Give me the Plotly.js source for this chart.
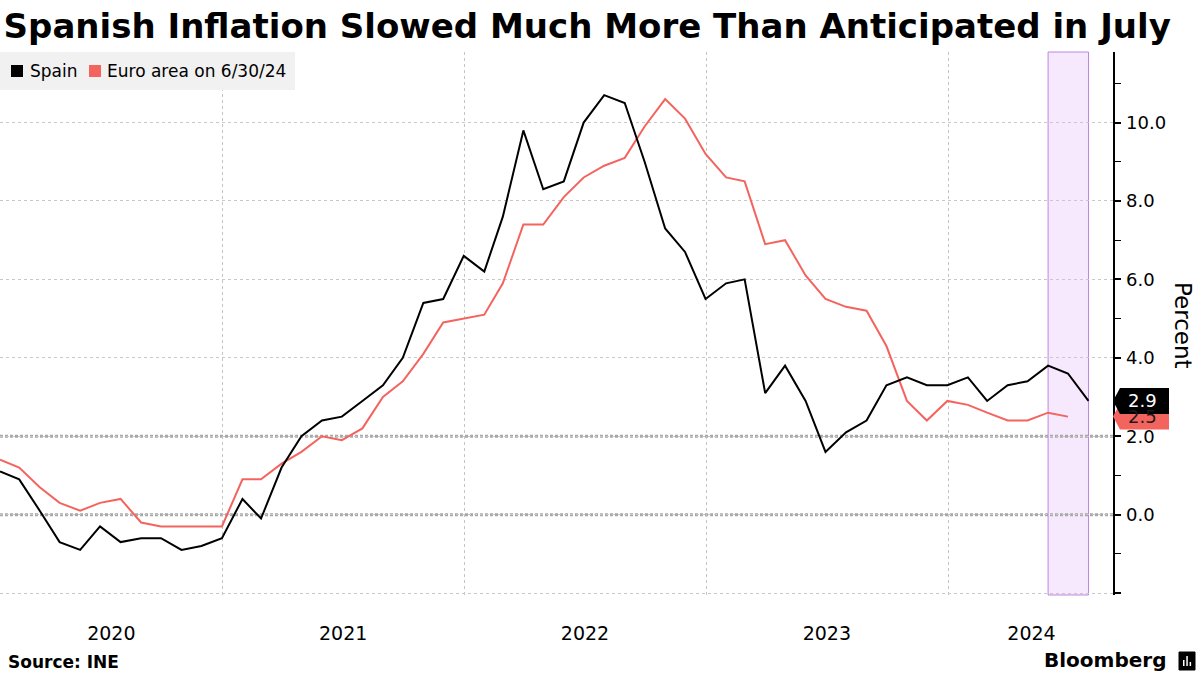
<!DOCTYPE html>
<html>
<head>
<meta charset="utf-8">
<script src="https://cdn.plot.ly/plotly-3.0.1.min.js"></script>
<style>
  html, body { margin: 0; padding: 0; background: #fff; }
  #chart { width: 1200px; height: 675px; }
</style>
</head>
<body>
<div id="chart"></div>
<script>
// ---- Data (year-over-year inflation, %) ----
const startYear = 2020;          // first month: Jan 2020
const spainValues = [
  1.1, 0.9, 0.1, -0.7, -0.9, -0.3, -0.7, -0.6, -0.6, -0.9, -0.8, -0.6,
  0.4, -0.1, 1.2, 2.0, 2.4, 2.5, 2.9, 3.3, 4.0, 5.4, 5.5, 6.6,
  6.2, 7.6, 9.8, 8.3, 8.5, 10.0, 10.7, 10.5, 9.0, 7.3, 6.7, 5.5,
  5.9, 6.0, 3.1, 3.8, 2.9, 1.6, 2.1, 2.4, 3.3, 3.5, 3.3, 3.3,
  3.5, 2.9, 3.3, 3.4, 3.8, 3.6, 2.9
];
const euroValues = [
  1.4, 1.2, 0.7, 0.3, 0.1, 0.3, 0.4, -0.2, -0.3, -0.3, -0.3, -0.3,
  0.9, 0.9, 1.3, 1.6, 2.0, 1.9, 2.2, 3.0, 3.4, 4.1, 4.9, 5.0,
  5.1, 5.9, 7.4, 7.4, 8.1, 8.6, 8.9, 9.1, 9.9, 10.6, 10.1, 9.2,
  8.6, 8.5, 6.9, 7.0, 6.1, 5.5, 5.3, 5.2, 4.3, 2.9, 2.4, 2.9,
  2.8, 2.6, 2.4, 2.4, 2.6, 2.5
];
const seriesNames = ['Spain', 'Euro area on 6/30/24'];
const yearLabels = ['2020', '2021', '2022', '2023', '2024'];
const yearLabelDates = ['2020-07-17', '2021-07-02', '2022-07-02', '2023-07-02', '2024-05-06'];
const yearBoundaries = ['2021-01-01', '2022-01-01', '2023-01-01', '2024-01-01'];
const yTickVals = [-2, 0, 2, 4, 6, 8, 10];
const yTickText = ['', '0.0', '2.0', '4.0', '6.0', '8.0', '10.0'];
const shadeStart = '2024-05-31';
const shadeEnd = '2024-07-31';
const xRange = ['2020-01-31', '2024-09-06'];
const yRange = [-2.05, 11.8];

// month-end dates for monthly observations
function monthEnd(i) {
  const d = new Date(Date.UTC(startYear, i + 1, 0));
  return d.toISOString().slice(0, 10);
}
const spainDates = spainValues.map((_, i) => monthEnd(i));
const euroDates = euroValues.map((_, i) => monthEnd(i));

// ---- Layout geometry ----
const W = 1200, H = 675;
const M = { l: 0, r: 87, t: 52, b: 80 };
const PW = W - M.l - M.r, PH = H - M.t - M.b;
const px = x => (x - M.l) / PW;          // pixel -> paper x
const py = y => 1 - (y - M.t) / PH;      // pixel -> paper y

const BLACK = '#000000';
const RED = '#f4645f';
const FONT = 'DejaVu Sans, sans-serif';

const traces = [
  { x: euroDates, y: euroValues, name: seriesNames[1], type: 'scatter', mode: 'lines',
    line: { color: RED, width: 2 }, showlegend: false, hoverinfo: 'skip' },
  { x: spainDates, y: spainValues, name: seriesNames[0], type: 'scatter', mode: 'lines',
    line: { color: BLACK, width: 2 }, showlegend: false, hoverinfo: 'skip' }
];

// end-of-series value tags
const lastSpain = spainValues[spainValues.length - 1];
const lastEuro = euroValues[euroValues.length - 1];
const pxPerUnit = PH / (yRange[1] - yRange[0]);
const halfTag = 13 / pxPerUnit;
function tagPath(v) {
  const tip = px(1113), bx = px(1120), rx = px(1169);
  return `M ${tip} ${v} L ${bx} ${v + halfTag} L ${rx} ${v + halfTag} L ${rx} ${v - halfTag} L ${bx} ${v - halfTag} Z`;
}

const shapes = [
  // highlighted period
  { type: 'rect', xref: 'x', yref: 'paper', x0: shadeStart, x1: shadeEnd, y0: 0, y1: 1,
    fillcolor: '#f6e8fd', line: { color: '#bf85e0', width: 1 }, layer: 'below' },
  // reference lines at 0 and 2
  { type: 'line', xref: 'paper', yref: 'y', x0: 0, x1: 1, y0: 0, y1: 0,
    line: { color: '#a8a8a8', width: 3, dash: '3px,2px' }, layer: 'below' },
  { type: 'line', xref: 'paper', yref: 'y', x0: 0, x1: 1, y0: 2, y1: 2,
    line: { color: '#a8a8a8', width: 3, dash: '3px,2px' }, layer: 'below' },
  // legend background
  { type: 'rect', xref: 'paper', yref: 'paper', x0: px(0), x1: px(295), y0: py(90), y1: py(52),
    fillcolor: '#f1f1f1', line: { width: 0 }, layer: 'above' },
  { type: 'rect', xref: 'paper', yref: 'paper', x0: px(11), x1: px(23), y0: py(77), y1: py(65),
    fillcolor: BLACK, line: { width: 0 } },
  { type: 'rect', xref: 'paper', yref: 'paper', x0: px(89), x1: px(101), y0: py(77), y1: py(65),
    fillcolor: RED, line: { width: 0 } },
  // value tags (euro first, spain on top)
  { type: 'path', xref: 'paper', yref: 'y', path: tagPath(lastEuro), fillcolor: RED, line: { width: 0 } },
  { type: 'path', xref: 'paper', yref: 'y', path: tagPath(lastSpain), fillcolor: BLACK, line: { width: 0 } },
  // Bloomberg icon
  { type: 'rect', xref: 'paper', yref: 'paper', x0: px(1179), x1: px(1195), y0: py(670), y1: py(652),
    fillcolor: '#000', line: { color: '#000', width: 1 } },
  { type: 'rect', xref: 'paper', yref: 'paper', x0: px(1183), x1: px(1184.5), y0: py(666), y1: py(660),
    fillcolor: '#fff', line: { width: 0 } },
  { type: 'rect', xref: 'paper', yref: 'paper', x0: px(1186.3), x1: px(1187.8), y0: py(666), y1: py(656),
    fillcolor: '#fff', line: { width: 0 } },
  { type: 'rect', xref: 'paper', yref: 'paper', x0: px(1189.6), x1: px(1191.1), y0: py(666), y1: py(662),
    fillcolor: '#fff', line: { width: 0 } }
];

const annotations = [
  { xref: 'paper', yref: 'paper', x: px(28), y: py(71), xanchor: 'left', yanchor: 'middle',
    text: seriesNames[0], showarrow: false, font: { family: FONT, size: 17, color: '#000' } },
  { xref: 'paper', yref: 'paper', x: px(105), y: py(71), xanchor: 'left', yanchor: 'middle',
    text: seriesNames[1], showarrow: false, font: { family: FONT, size: 17, color: '#000' } },
  { xref: 'paper', yref: 'y', x: px(1142), y: lastEuro, xanchor: 'center', yanchor: 'middle',
    text: lastEuro.toFixed(1), showarrow: false, font: { family: FONT, size: 18, color: '#1a1a1a' } },
  { xref: 'paper', yref: 'y', x: px(1142), y: lastSpain, xanchor: 'center', yanchor: 'middle',
    text: lastSpain.toFixed(1), showarrow: false, font: { family: FONT, size: 18, color: '#ffffff' } },
  { xref: 'paper', yref: 'paper', x: px(1183), y: py(325), xanchor: 'center', yanchor: 'middle',
    text: 'Percent', textangle: 90, showarrow: false, font: { family: FONT, size: 23, color: '#000' } },
  { xref: 'paper', yref: 'paper', x: px(6), y: py(662), xanchor: 'left', yanchor: 'middle',
    text: '<b>Source: INE</b>', showarrow: false, font: { family: FONT, size: 17, color: '#000' } },
  { xref: 'paper', yref: 'paper', x: px(1168), y: py(660), xanchor: 'right', yanchor: 'middle',
    text: '<b>Bloomberg</b>', showarrow: false, font: { family: FONT, size: 20, color: '#000' } }
];

const layout = {
  width: W, height: H,
  margin: M,
  paper_bgcolor: '#ffffff',
  plot_bgcolor: '#ffffff',
  showlegend: false,
  title: {
    text: '<b>Spanish Inflation Slowed Much More Than Anticipated in July</b>',
    x: 0.003, xref: 'container', xanchor: 'left',
    y: 0.962, yref: 'container', yanchor: 'middle',
    font: { family: FONT, size: 34, color: '#000' }
  },
  xaxis: {
    type: 'date',
    range: xRange,
    tickmode: 'array',
    tickvals: yearLabelDates,
    ticktext: yearLabels,
    ticks: '',
    showgrid: false,
    showline: false,
    zeroline: false,
    ticklabelstandoff: 25,
    tickfont: { family: FONT, size: 19, color: '#000' },
    minor: {
      tickmode: 'array',
      tickvals: yearBoundaries,
      showgrid: true,
      gridcolor: '#c4c4c4',
      griddash: 'dot',
      gridwidth: 1,
      ticks: ''
    },
    fixedrange: true
  },
  yaxis: {
    side: 'right',
    range: yRange,
    tickmode: 'array',
    tickvals: yTickVals,
    ticktext: yTickText,
    showgrid: true,
    gridcolor: '#c8c8c8',
    griddash: 'dot',
    gridwidth: 1,
    zeroline: false,
    showline: true,
    linecolor: '#000',
    linewidth: 1.5,
    ticks: 'outside',
    ticklen: 6,
    tickwidth: 2,
    tickcolor: '#000',
    ticklabelstandoff: 2,
    tickfont: { family: FONT, size: 18, color: '#000' },
    minor: {
      dtick: 1,
      tick0: 1,
      ticks: 'outside',
      ticklen: 6,
      tickwidth: 1,
      tickcolor: '#000',
      showgrid: false
    },
    fixedrange: true
  },
  shapes: shapes,
  annotations: annotations
};

Plotly.newPlot('chart', traces, layout, { staticPlot: true, displayModeBar: false });
</script>
</body>
</html>
